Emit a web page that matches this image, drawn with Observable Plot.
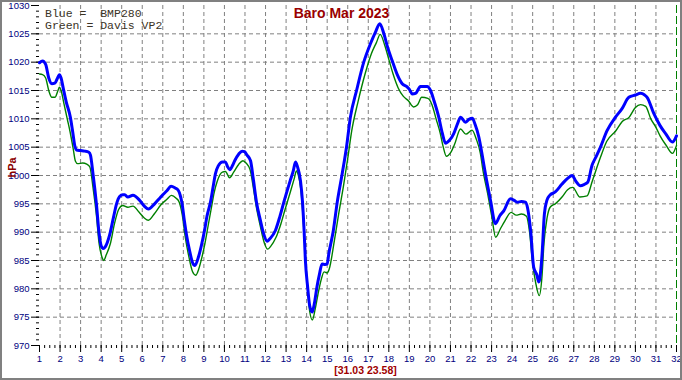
<!DOCTYPE html>
<html>
<head>
<meta charset="utf-8">
<script src="https://cdn.jsdelivr.net/npm/d3@7"></script>
<script src="https://cdn.jsdelivr.net/npm/@observablehq/plot@0.6"></script>
<style>
html, body { margin: 0; padding: 0; background: #fff; }
svg { display: block; outline: 2px solid #808080; outline-offset: -2px; }
svg text { white-space: pre; }
</style>
</head>
<body>
<div id="chart"></div>
<script>
// ---- Data (day of March 2023, hPa) ----
const bmpDays = [1.0,1.15,1.3,1.45,1.6,1.75,1.9,1.97,2.05,2.15,2.3,2.5,2.62,2.72,2.8,3.0,3.2,3.4,3.48,3.6,3.77,3.9,4.0,4.1,4.2,4.42,4.6,4.75,4.9,5.05,5.15,5.3,5.55,5.88,6.1,6.3,6.6,6.85,7.0,7.2,7.4,7.6,7.75,7.85,7.94,8.05,8.15,8.3,8.45,8.56,8.75,8.9,9.03,9.15,9.32,9.45,9.56,9.7,9.9,10.05,10.15,10.26,10.4,10.5,10.7,10.86,10.98,11.1,11.27,11.4,11.56,11.75,11.9,12.08,12.2,12.48,12.7,12.89,13.05,13.2,13.35,13.46,13.55,13.7,13.8,13.88,13.94,14.05,14.15,14.27,14.38,14.5,14.62,14.75,14.9,15.0,15.08,15.3,15.49,15.73,15.94,16.13,16.43,16.78,17.1,17.35,17.56,17.76,17.95,18.16,18.4,18.65,18.9,19.0,19.14,19.3,19.54,19.87,20.03,20.2,20.43,20.6,20.76,20.95,21.16,21.35,21.49,21.73,21.9,22.06,22.2,22.38,22.55,22.7,22.95,23.19,23.4,23.6,23.92,24.1,24.25,24.45,24.65,24.75,24.9,25.05,25.2,25.3,25.4,25.46,25.57,25.7,25.83,26.1,26.43,26.7,26.92,27.1,27.32,27.5,27.68,27.89,28.1,28.3,28.62,29.03,29.35,29.68,30.0,30.25,30.45,30.57,30.9,31.2,31.47,31.8,32.0];
const bmpValues = [1019.9,1020.2,1019.6,1017.2,1016.2,1016.3,1017.4,1017.8,1017.2,1015.5,1013.0,1010.3,1007.6,1005.2,1004.5,1004.4,1004.3,1004.1,1003.6,1000.4,995.0,989.8,987.6,987.1,987.4,989.6,992.6,995.0,996.3,996.6,996.6,996.2,996.5,995.6,994.6,994.1,995.0,996.0,996.6,997.3,998.1,997.8,997.4,996.5,995.0,992.0,989.6,986.8,984.6,984.1,985.8,988.0,990.3,992.8,995.3,998.0,1000.3,1001.7,1002.4,1002.4,1001.6,1001.0,1001.8,1002.6,1003.8,1004.3,1004.2,1003.6,1002.6,999.5,995.3,992.1,989.8,988.4,988.8,990.3,992.8,995.3,997.3,999.1,1000.8,1002.4,1001.6,999.1,995.3,990.0,985.0,980.3,977.0,975.9,977.5,980.3,982.5,984.4,984.3,984.4,986.2,990.3,995.3,1000.3,1005.0,1010.3,1015.0,1020.0,1023.2,1025.3,1026.8,1025.0,1022.5,1020.3,1017.9,1016.2,1015.6,1015.2,1014.4,1014.5,1015.7,1015.7,1015.0,1013.2,1010.3,1007.5,1005.7,1006.2,1007.4,1009.2,1010.3,1009.4,1009.9,1010.1,1009.0,1006.8,1003.5,1000.3,995.6,991.5,992.9,993.8,995.9,995.6,995.3,995.4,995.3,994.3,990.3,983.8,982.5,981.2,983.5,986.2,993.2,995.7,996.5,997.1,998.5,999.5,1000.0,999.0,998.2,998.4,998.8,1001.8,1003.4,1005.0,1007.9,1010.3,1011.8,1013.8,1014.2,1014.5,1014.2,1013.8,1010.9,1008.8,1007.4,1005.9,1007.0];

const davisDays = [1.0,1.15,1.3,1.45,1.6,1.75,1.9,1.97,2.05,2.2,2.35,2.5,2.65,2.75,2.85,3.1,3.3,3.45,3.6,3.77,3.9,4.05,4.12,4.25,4.45,4.65,4.85,5.05,5.3,5.55,5.85,6.1,6.3,6.6,6.9,7.2,7.42,7.65,7.8,7.95,8.1,8.25,8.45,8.6,8.75,8.9,9.05,9.2,9.35,9.5,9.65,9.9,10.05,10.25,10.45,10.7,10.9,11.05,11.25,11.4,11.55,11.75,11.95,12.1,12.25,12.5,12.75,12.95,13.2,13.4,13.5,13.6,13.72,13.82,13.92,14.05,14.15,14.28,14.42,14.55,14.7,14.85,15.0,15.1,15.35,15.55,15.8,16.0,16.2,16.5,16.85,17.15,17.4,17.58,17.8,18.0,18.2,18.45,18.7,18.95,19.2,19.4,19.6,19.9,20.1,20.3,20.5,20.65,20.8,21.0,21.2,21.49,21.75,22.05,22.25,22.45,22.6,22.8,23.0,23.2,23.43,23.65,23.95,24.2,24.45,24.7,24.85,25.0,25.15,25.32,25.45,25.55,25.7,25.85,26.1,26.45,26.7,26.95,27.3,27.65,27.9,28.3,28.6,29.05,29.35,29.7,30.0,30.25,30.5,30.75,31.0,31.2,31.5,31.8,32.0];
const davisValues = [1017.9,1017.8,1017.2,1015.0,1013.8,1013.8,1015.0,1015.6,1015.0,1012.5,1010.0,1007.5,1004.5,1002.5,1002.1,1002.2,1002.0,1001.5,998.0,993.0,988.0,985.5,985.0,986.0,988.0,991.5,994.0,994.7,994.4,994.6,993.5,992.5,992.1,993.3,994.8,995.8,996.5,996.0,995.3,993.0,989.0,986.0,983.0,982.4,983.5,985.5,988.0,991.0,994.0,997.0,999.0,1000.6,1000.7,999.6,1000.6,1002.0,1002.6,1002.2,1001.0,998.0,994.5,991.0,988.0,987.0,987.5,989.0,991.5,994.0,997.0,999.5,1000.8,1000.0,997.5,993.0,987.0,980.0,976.0,974.5,976.5,979.0,981.5,983.0,982.8,983.5,988.5,993.0,998.3,1003.0,1008.0,1013.0,1018.0,1021.5,1023.5,1024.9,1023.0,1020.5,1018.0,1015.5,1014.0,1013.2,1012.1,1012.5,1013.8,1013.6,1012.5,1010.0,1007.5,1005.0,1003.4,1004.0,1005.5,1008.2,1007.3,1008.0,1006.5,1004.0,1000.5,997.0,993.0,989.1,990.6,992.0,993.5,993.0,993.2,992.8,990.0,984.5,981.0,978.8,982.0,988.0,992.5,994.4,995.0,996.3,997.5,997.9,996.2,996.4,999.0,1003.2,1006.0,1007.9,1009.5,1010.3,1012.0,1012.5,1012.2,1010.0,1008.5,1007.0,1005.3,1003.9,1005.3];

const dayTicks = [1,2,3,4,5,6,7,8,9,10,11,12,13,14,15,16,17,18,19,20,21,22,23,24,25,26,27,28,29,30,31,32];
const pressureTicks = [970,975,980,985,990,995,1000,1005,1010,1015,1020,1025,1030];
const titleText = "Baro Mar 2023";
const legendLines = ["Blue =  BMP280", "Green = Davis VP2"];
const yLabel = "hPa";
const stampText = "[31.03 23.58]";
const nowDay = [32];

// ---- Tables built from the arrays ----
const bmp = bmpDays.map((d, i) => ({day: d, hpa: bmpValues[i]}));
const davis = davisDays.map((d, i) => ({day: d, hpa: davisValues[i]}));
const dayMinor = d3.range(1, 32.001, 0.25);
const pressureMinor = d3.range(970, 1030.001, 1);
const plain = (d) => String(d);

const mono = "'Liberation Mono', 'Courier New', monospace";
const chart = Plot.plot({
  width: 682,
  height: 380,
  marginLeft: 39,
  marginRight: 6,
  marginTop: 5,
  marginBottom: 35,
  x: {domain: [1, 32], label: null},
  y: {domain: [970, 1030], label: null},
  style: {fontFamily: "'Liberation Sans', Arial, sans-serif", background: "#fff", overflow: "visible"},
  marks: [
    Plot.gridX(dayTicks.slice(1, -1), {stroke: "#808080", strokeOpacity: 1, strokeDasharray: "4,3"}),
    Plot.gridY(pressureTicks.slice(1, -1), {stroke: "#808080", strokeOpacity: 1, strokeDasharray: "4,3"}),
    Plot.ruleX(nowDay, {stroke: "#008000", strokeWidth: 1, strokeDasharray: "8,3"}),
    Plot.axisY(pressureMinor, {tickSize: 3, text: null, stroke: "#000", label: null}),
    Plot.axisY(pressureTicks, {tickSize: 8, tickPadding: 2, tickFormat: plain, stroke: "#000", fill: "#000080", fontSize: 9.5, label: null}),
    Plot.axisX(dayMinor, {tickSize: 3, text: null, stroke: "#000", label: null}),
    Plot.axisX(dayTicks, {tickSize: 7, tickPadding: 3, tickFormat: plain, stroke: "#000", fill: "#000080", fontSize: 9.5, label: null}),
    Plot.line(davis, {x: "day", y: "hpa", stroke: "#008000", strokeWidth: 1.4, curve: "monotone-x"}),
    Plot.line(bmp, {x: "day", y: "hpa", stroke: "#0000ff", strokeWidth: 3, curve: "monotone-x"}),
    Plot.text([titleText], {frameAnchor: "top", lineAnchor: "middle", textAnchor: "middle", dx: -16.5, dy: 8.5, fontSize: 14, fontWeight: "bold", fill: "#990000", letterSpacing: "-0.4px"}),
    Plot.text([legendLines[0]], {frameAnchor: "top-left", lineAnchor: "middle", textAnchor: "start", dx: 5.5, dy: 7.8, fontSize: 11.5, fontFamily: mono, fill: "#3b3326"}),
    Plot.text([legendLines[1]], {frameAnchor: "top-left", lineAnchor: "middle", textAnchor: "start", dx: 5.5, dy: 20.3, fontSize: 11.5, fontFamily: mono, fill: "#3b3326"}),
    Plot.text([yLabel], {frameAnchor: "left", lineAnchor: "middle", textAnchor: "middle", rotate: -90, dx: -27, dy: -8, fontSize: 11, fontWeight: "bold", fill: "#8b0000"}),
    Plot.text([stampText], {frameAnchor: "bottom", lineAnchor: "middle", textAnchor: "middle", dx: 7.5, dy: 25.5, fontSize: 10.5, fontWeight: "bold", fill: "#a00000"})
  ]
});
document.getElementById("chart").appendChild(chart);
</script>
</body>
</html>
